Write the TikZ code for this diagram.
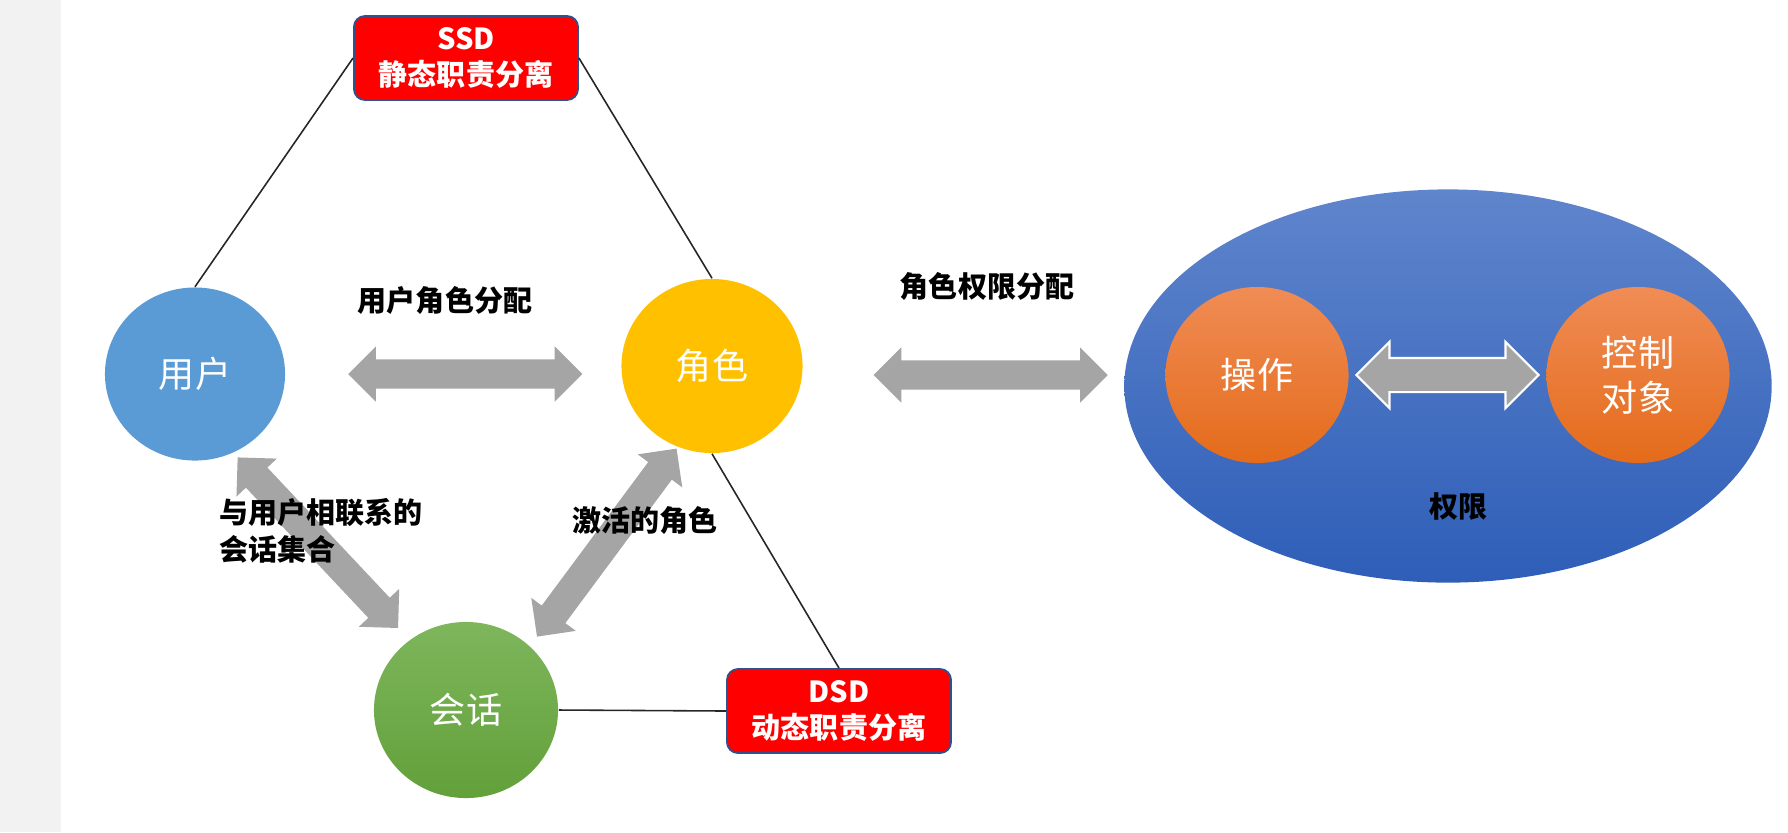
\documentclass[tikz,border=0pt]{standalone}
\usepackage{fontspec}
\setmainfont{Noto Sans CJK SC}
\usepackage{tikz}
\usetikzlibrary{
  arrows.meta, positioning, shapes.geometric, shapes.arrows, calc
}
\definecolor{ruser}{HTML}{5B9BD5}
\definecolor{rrole}{HTML}{FFC000}
\definecolor{rsesstop}{HTML}{7EB65C}
\definecolor{rsessbot}{HTML}{62A03A}
\definecolor{roptop}{HTML}{F08C55}
\definecolor{ropbot}{HTML}{E46B1A}
\definecolor{rpermtop}{HTML}{5F85CC}
\definecolor{rpermbot}{HTML}{2E5EB8}
\definecolor{rred}{HTML}{FF0000}
\definecolor{rredline}{HTML}{2F528F}
\definecolor{rarrow}{HTML}{A5A5A5}
\definecolor{rstrip}{HTML}{F2F2F2}
\tikzset{
  ent/.style={ellipse, inner sep=0pt, text=white, align=center,
              font=\fontsize{10.25pt}{12.8pt}\selectfont},
  sodbox/.style={rectangle, fill=rred, draw=rredline, line width=0.5pt,
              rounded corners=0.11cm, text=white, align=center,
              minimum width=2.24cm, minimum height=0.84cm, inner sep=0pt,
              font=\fontsize{8.25pt}{10.5pt}\selectfont\bfseries},
  lbl/.style={text=black, inner sep=0pt,
              font=\fontsize{8.25pt}{10.5pt}\selectfont\bfseries},
  fatarr/.style={double arrow, fill=rarrow, inner xsep=0pt, inner ysep=0.14cm,
              double arrow tip angle=90, double arrow head extend=0.13cm,
              minimum width=0.54cm, minimum height=2.34cm},
  link/.style={draw=black!85, line width=0.45pt},
}

\begin{document}
\begin{tikzpicture}[x=0.01cm, y=-0.01cm]
  \useasboundingbox (0,0) rectangle (1788,832);
  \fill[rstrip] (0,0) rectangle (61,832);

  % entities
  \node[ent, fill=ruser, minimum width=1.80cm, minimum height=1.73cm]
    (user) at (195,374) {用户};
  \node[ent, fill=rrole, minimum width=1.81cm, minimum height=1.74cm]
    (role) at (712,366) {角色};
  \node[ent, top color=rsesstop, bottom color=rsessbot,
        minimum width=1.84cm, minimum height=1.76cm]
    (sess) at (466,710) {会话};
  \node[ellipse, top color=rpermtop, bottom color=rpermbot,
        minimum width=6.47cm, minimum height=3.93cm]
    (perm) at (1448,386) {};
  \node[ent, top color=roptop, bottom color=ropbot,
        minimum width=1.83cm, minimum height=1.76cm]
    (op) at (1257,375) {操作};
  \node[ent, top color=roptop, bottom color=ropbot,
        minimum width=1.83cm, minimum height=1.76cm]
    (obj) at (1638,375) {控制\\对象};
  \node[lbl] (permlbl) at (1458,507) {权限};

  % separation of duty
  \node[sodbox] (ssd) at (466,58) {SSD\\静态职责分离};
  \node[sodbox] (dsd) at (839,711) {DSD\\动态职责分离};
  \draw[link] (ssd.west) -- (user.north);
  \draw[link] (ssd.east) -- (role.north);
  \draw[link] (role.south) -- (dsd.north);
  \draw[link] (sess.east) -- (dsd.west);

  % assignments
  \path (user.east) -- node[fatarr, pos=0.536] (ua) {} (user.east -| role.west);
  \path (role.east |- op.center) -- node[fatarr, pos=0.585] (pa) {}
    (perm.west |- op.center);
  \path (user.-64) -- node[fatarr, sloped, pos=0.48] (us) {} (sess.129);
  \path (role.-113) -- node[fatarr, sloped, pos=0.48] (rs) {} (sess.45);
  \path (op) -- node[fatarr, draw=white, line width=0.6pt, inner ysep=0.16cm,
    double arrow head extend=0.16cm, minimum width=0.64cm,
    minimum height=1.82cm] (oo) {} (obj);

  \node[lbl] (ualbl) at (445,300) {用户角色分配};
  \node[lbl] (palbl) at (987,286) {角色权限分配};
  \node[lbl, align=left, anchor=west] (uslbl) at (219,531) {与用户相联系的\\会话集合};
  \node[lbl] (rslbl) at (645,520) {激活的角色};
\end{tikzpicture}
\end{document}
